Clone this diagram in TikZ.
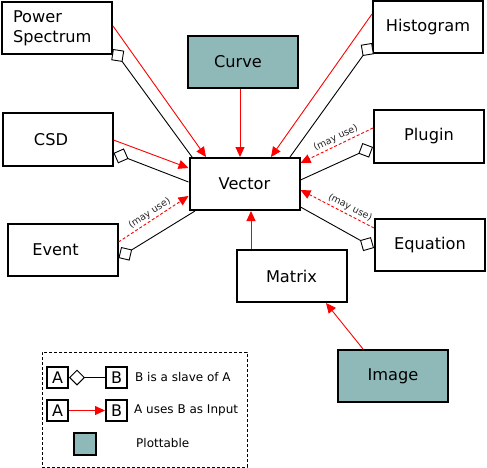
\documentclass[tikz,border=0pt]{standalone}
\usepackage{fontspec}
\setmainfont{DejaVu Sans}
\usetikzlibrary{arrows.meta,calc}
\definecolor{plotcol}{RGB}{143,185,185}
\begin{document}
\begin{tikzpicture}[x=1pt,y=-1pt,
  box/.style={draw=black,line width=2pt,minimum width=110pt,minimum height=52pt,inner sep=0pt,font=\fontsize{16.2}{20}\selectfont,fill=white},
  plotbox/.style={box,fill=plotcol},
  uses/.style={draw=red,line width=0.9pt,-{Triangle[length=10pt,width=9pt]}},
  mayuse/.style={uses,dash pattern=on 3pt off 2pt},
  slave/.style={draw=black,line width=0.9pt,{Diamond[open,length=16pt,width=16pt,fill=white]}-},
  lbl/.style={font=\fontsize{9.5}{10}\selectfont,sloped,above,inner sep=2pt,text=black!85},
  smallbox/.style={draw=black,line width=2pt,minimum size=21pt,inner sep=0pt,font=\fontsize{16}{18}\selectfont},
  legtext/.style={font=\fontsize{12}{14}\selectfont,anchor=west,inner sep=0pt}
]
\useasboundingbox (0,0) rectangle (487,468);

% boxes
\node[box,align=left,text width=88pt,inner xsep=11pt] (ps) at (57,28) {Power\\Spectrum};
\node[plotbox] (curve) at (243,62) {Curve\kern10pt};
\node[box] (hist) at (428,27.5) {Histogram};
\node[box] (csd) at (57.5,139.5) {CSD\kern13pt};
\node[box] (plugin) at (429,136.5) {Plugin};
\node[box] (vec) at (244.5,184) {Vector};
\node[box] (event) at (62.5,249.5) {Event\kern14pt};
\node[box] (eq) at (430,245) {Equation};
\node[box] (matrix) at (291.5,276) {Matrix};
\node[plotbox] (image) at (393,376) {Image};

% slave connectors
\draw[slave] ($(ps.east)+(0,21)$) -- ($(vec.north west)+(3.5,0)$);
\draw[slave] ($(hist.west)+(0,15.5)$) -- ($(vec.north east)+(-10.5,0)$);
\draw[slave] ($(csd.east)+(0,13.5)$) -- ($(vec.west)+(0,-2)$);
\draw[slave] ($(plugin.west)+(0,10.5)$) -- ($(vec.east)+(0,-4)$);
\draw[slave] ($(event.east)+(0,8.5)$) -- ($(vec.south west)+(6.5,0)$);
\draw[slave] ($(eq.west)+(0,3)$) -- ($(vec.east)+(0,23)$);

% uses connectors
\draw[uses] ($(ps.east)+(0,-2)$) -- ($(vec.north west)+(17.5,0)$);
\draw[uses] ($(curve.south)+(-3,0)$) -- ($(vec.north)+(-4.5,0)$);
\draw[uses] ($(hist.west)+(0,-13.5)$) -- ($(vec.north east)+(-29.5,0)$);
\draw[uses] ($(csd.east)+(0,0.5)$) -- ($(vec.west)+(0,-16)$);
\draw[mayuse] ($(plugin.west)+(0,-8.5)$) -- node[lbl,pos=0.47] {(may use)} ($(vec.east)+(0,-21)$);
\draw[mayuse] ($(event.east)+(0,-7.5)$) -- node[lbl,pos=0.5] {(may use)} ($(vec.west)+(0,12)$);
\draw[mayuse] ($(eq.west)+(0,-17)$) -- node[lbl,pos=0.37] {(may use)} ($(vec.east)+(0,6)$);
\draw[uses] ($(matrix.north)+(-40.5,0)$) -- ($(vec.south)+(6.5,0)$);
\draw[uses] ($(image.north)+(-30,0)$) -- ($(matrix.south)+(34.5,0)$);

% legend
\node[draw=black,dash pattern=on 3pt off 2pt,line width=0.8pt,minimum width=205pt,minimum height=115pt,inner sep=0pt] (legend) at (144.5,409.5) {};
\node[smallbox] (la1) at (57.5,377.5) {A};
\node[smallbox] (lb1) at (116.5,377.5) {B};
\draw[slave] (la1.east) -- (lb1.west);
\node[smallbox] (la2) at (57.5,410.5) {A};
\node[smallbox] (lb2) at (116.5,410.5) {B};
\draw[uses] (la2.east) -- (lb2.west);
\node[smallbox,fill=plotcol,minimum size=22pt] (lp) at (85,443.5) {};
\node[legtext] (t1) at (135,377.5) {B is a slave of A};
\node[legtext] (t2) at (134,410.5) {A uses B as Input};
\node[legtext] (t3) at (136,443.5) {Plottable};
\end{tikzpicture}
\end{document}
